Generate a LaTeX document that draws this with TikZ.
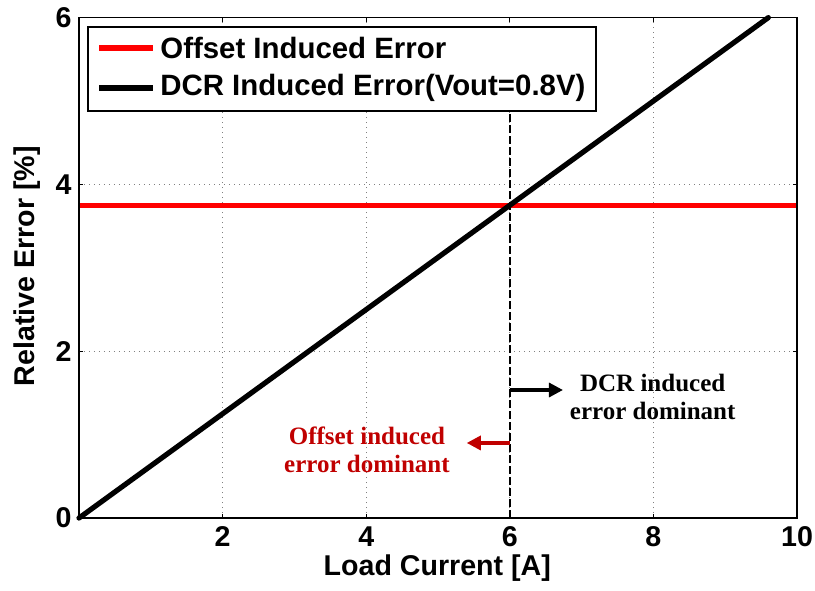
\documentclass[tikz,border=0pt]{standalone}
\usepackage{fontspec}
\setmainfont{Liberation Sans}
\newfontfamily\timesfont{Liberation Serif}
\usetikzlibrary{arrows.meta}

\definecolor{darkred}{RGB}{192,0,0}

\begin{document}
\begin{tikzpicture}[x=35.9pt,y=41.7pt,font=\fontsize{14.3}{16}\selectfont\bfseries,
    note/.style={font=\fontsize{12.5}{14}\selectfont\timesfont\bfseries,align=center,inner sep=0pt},
    side/.style={-{Triangle[length=7pt,width=7pt]},line width=1.6pt}]
    \useasboundingbox(-1.1,-0.863)rectangle(10.25,6.211);

    %% grid
    \foreach \x in {2,4,6,8} \draw[gray,dotted,line width=0.5pt](\x,0)--(\x,6);
    \foreach \y in {2,4} \draw[gray,dotted,line width=0.5pt](0,\y)--(10,\y);

    %% crossing point at 6A
    \draw[dashed,dash pattern=on 4pt off 1.5pt,line width=1.1pt](6,0)--(6,4.9);

    %% curves
    \draw[red,line width=2.4pt](0,3.75)--(10,3.75);
    \draw[line width=2.6pt,line cap=round](0,0)--(9.6,6);

    %% legend
    \draw[fill=white,line width=0.6pt](0.125,4.88)rectangle(7.2,5.887);
    \draw[red,line width=2.6pt](0.279,5.636)--(1.03,5.636);
    \draw[line width=2.6pt](0.279,5.156)--(1.03,5.156);
    \node[anchor=west,inner sep=0pt,font=\fontsize{14.7}{16}\selectfont\bfseries](legoff)at(1.128,5.636){Offset Induced Error};
    \node[anchor=west,inner sep=0pt,font=\fontsize{14.7}{16}\selectfont\bfseries](legdcr)at(1.128,5.156){DCR Induced Error(Vout=0.8V)};

    %% axes
    \draw[line width=0.6pt](0,0)rectangle(10,6);
    \foreach \x in {2,4,6,8,10}{
        \draw[line width=0.5pt](\x,0)--++(0,0.05);
        \draw[line width=0.5pt](\x,6)--++(0,-0.05);
        \node(xt\x)at(\x,-0.22){\x};
    }
    \foreach \y in {0,2,4,6}{
        \draw[line width=0.5pt](0,\y)--++(0.06,0);
        \draw[line width=0.5pt](10,\y)--++(-0.06,0);
        \node[anchor=east,inner sep=0pt](yt\y)at(-0.1,\y){\y};
    }
    \node(xlabel)at(4.99,-0.6){Load Current [A]};
    \node[rotate=90](ylabel)at(-0.72,3.02){Relative Error [\%]};

    %% regions
    \coordinate(dcrfrom)at(6,1.535);
    \coordinate(dcrto)at(6.74,1.535);
    \coordinate(offfrom)at(6,0.9);
    \coordinate(offto)at(5.40,0.9);
    \draw[side](dcrfrom)--(dcrto);
    \draw[side,darkred](offfrom)--(offto);
    \node[note](dcrnote)at(7.99,1.45){DCR induced\\error dominant};
    \node[note,text=darkred](offnote)at(4.01,0.82){Offset induced\\error dominant};
\end{tikzpicture}
\end{document}
